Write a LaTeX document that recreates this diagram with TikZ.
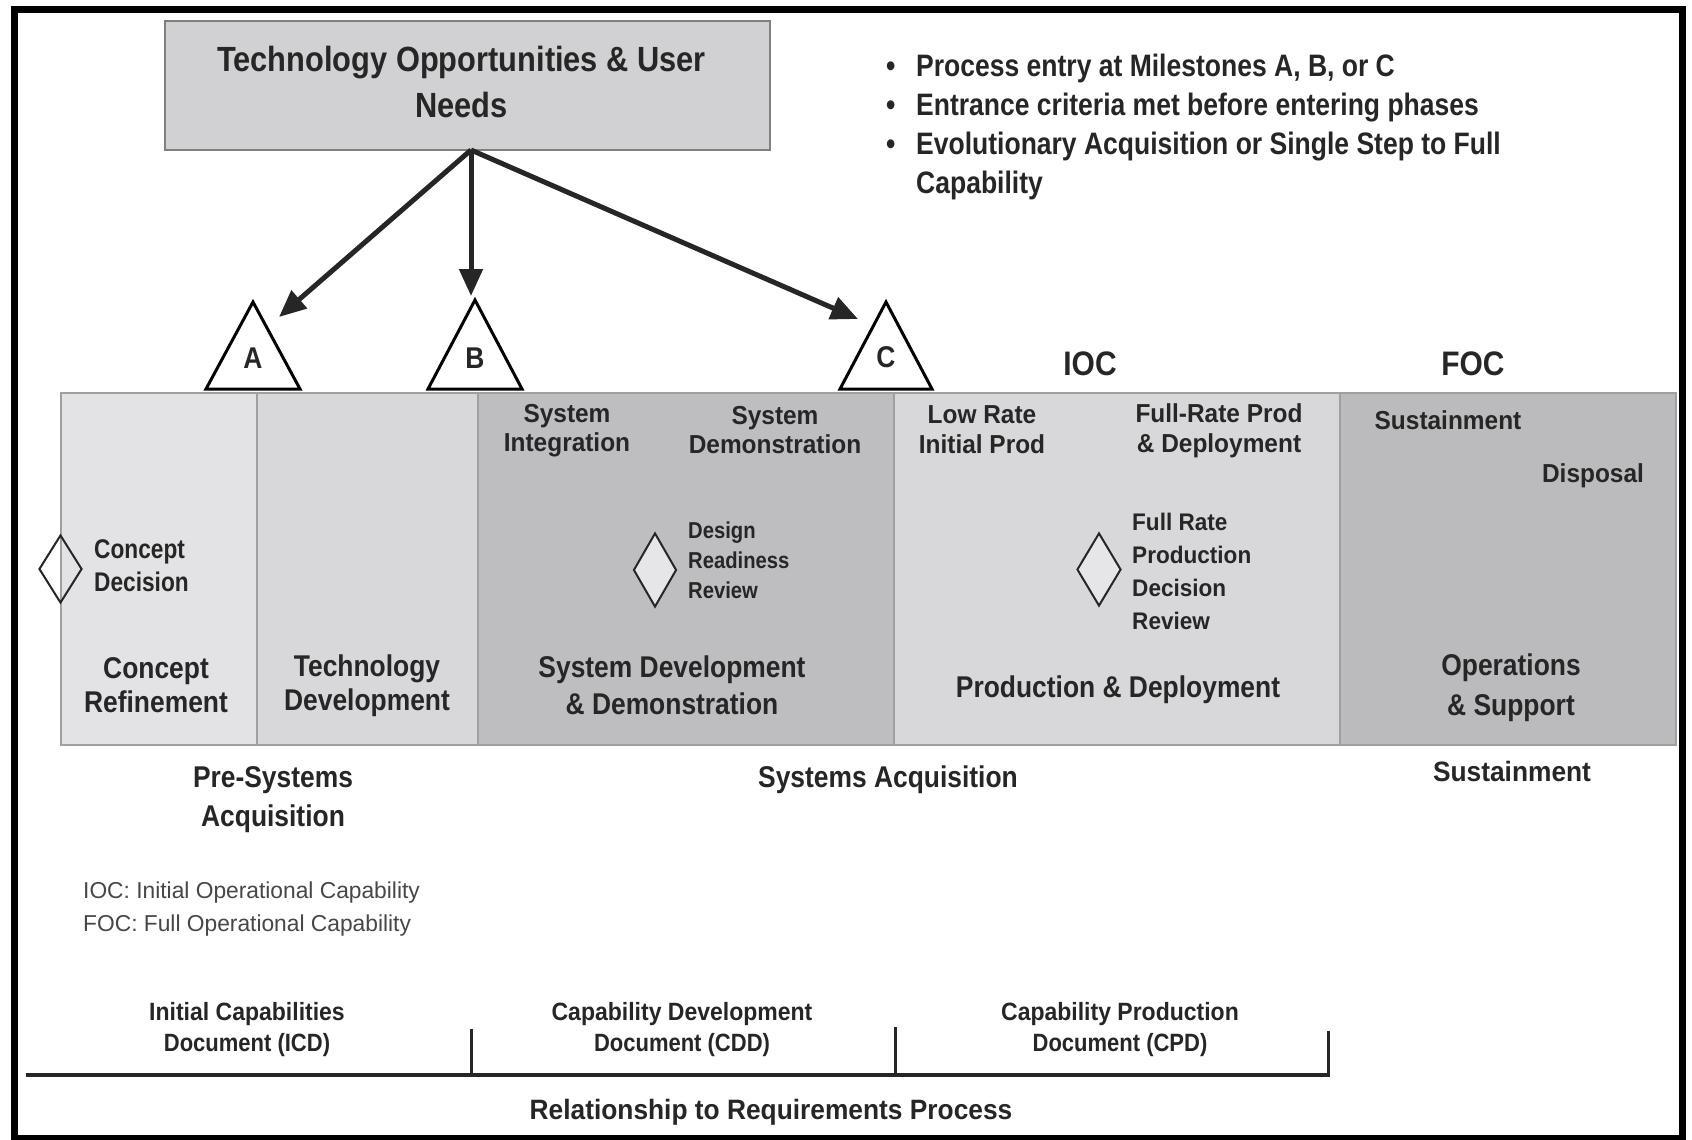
\documentclass[tikz,border=0pt]{standalone}
\usepackage{fontspec}
\setmainfont{Liberation Sans}[FakeStretch=0.88]
\newfontfamily\widefont{Liberation Sans}[FakeStretch=0.94]
\newfontfamily\bulfont{Liberation Sans}[FakeStretch=0.855]
\newfontfamily\narfont{Liberation Sans}[FakeStretch=0.84]
\newfontfamily\legfont{Liberation Sans}[FakeStretch=0.99]
\usetikzlibrary{shapes.geometric,arrows.meta}
\definecolor{ink}{HTML}{262626}
\definecolor{crfill}{HTML}{E3E3E5}
\definecolor{lightfill}{HTML}{D8D8DA}
\definecolor{darkfill}{HTML}{BEBEC0}
\definecolor{osfill}{HTML}{BBBBBD}
\definecolor{boxfill}{HTML}{D1D1D3}
\definecolor{edgegray}{HTML}{A0A0A2}
\definecolor{dfill}{HTML}{E6E6E8}
\newcommand\fsz[2]{\fontsize{#1}{#2}\selectfont}
\tikzset{
  lbl/.style={text=ink, font=\bfseries, align=center, inner sep=0pt},
  phasebox/.style={draw=edgegray, line width=1.5pt},
  mstone/.style={draw=black, fill=white, line width=3pt, line join=miter},
  dec/.style={diamond, draw=ink, line width=2pt, inner sep=0pt},
  bigarrow/.style={draw=ink, line width=5pt, -{Triangle[length=27pt,width=23pt]}},
  docline/.style={draw=ink, line width=4pt},
  tickline/.style={draw=ink, line width=3pt},
}
\begin{document}
\begin{tikzpicture}[x=1pt,y=-1pt]
\useasboundingbox (0,0) rectangle (1692,1140);
\fill[white] (0,0) rectangle (1692,1140);
% outer frame
\draw[black, line width=7pt] (14,10) rectangle (1682,1138);

% top box
\node[draw=gray, line width=1.5pt, fill=boxfill, minimum width=605pt, minimum height=129pt, inner sep=0pt] (top) at (467.5,85.5) {};
\node[lbl, font=\bfseries\fsz{35}{46}] (toptext) at (461.5,81.5) {Technology Opportunities \& User\\Needs};

% bullets
\node[lbl, anchor=west, align=left, font=\bulfont\bfseries\fsz{31}{39}] (bul) at (886,127)
 {\makebox[30pt][l]{\textbullet}Process entry at Milestones A, B, or C\\
  \makebox[30pt][l]{\textbullet}Entrance criteria met before entering phases\\
  \makebox[30pt][l]{\textbullet}Evolutionary Acquisition or Single Step to Full\\
  \makebox[30pt][l]{}Capability};

% phase band
\fill[crfill] (61,393) rectangle (257,745);
\fill[lightfill] (257,393) rectangle (478,745);
\fill[darkfill] (478,393) rectangle (894,745);
\fill[lightfill] (894,393) rectangle (1340,745);
\fill[osfill] (1340,393) rectangle (1676,745);
\draw[phasebox] (61,393) rectangle (1676,745);
\draw[phasebox] (257,393) -- (257,745);
\draw[phasebox] (478,393) -- (478,745);
\draw[phasebox] (894,393) -- (894,745);
\draw[phasebox] (1340,393) -- (1340,745);

% milestones
\draw[mstone] (206,389) -- (253,302) -- (300,389) -- cycle;
\draw[mstone] (428,389) -- (475,300) -- (522,389) -- cycle;
\draw[mstone] (840,389) -- (886,302) -- (932,389) -- cycle;
\node[lbl, font=\bfseries\fsz{30}{34}] (mA) at (253,358) {A};
\node[lbl, font=\bfseries\fsz{30}{34}] (mB) at (475,358) {B};
\node[lbl, font=\bfseries\fsz{30}{34}] (mC) at (886,357) {C};
\coordinate (tA) at (279,317);
\coordinate (tB) at (471,296);
\coordinate (tC) at (858,319);
\coordinate (src) at (471,150);
\draw[bigarrow] (src) -- (tA);
\draw[bigarrow] (src) -- (tB);
\draw[bigarrow] (src) -- (tC);

\node[lbl, font=\bfseries\fsz{34}{38}] (ioc) at (1090,364) {IOC};
\node[lbl, font=\bfseries\fsz{34}{38}] (foc) at (1473,364) {FOC};

% diamonds
\node[dec, minimum width=43pt, minimum height=68pt] (d1) at (60.5,569) {};
\node[dec, fill=dfill, minimum width=43pt, minimum height=74pt] (d2) at (655,570) {};
\node[dec, fill=dfill, minimum width=44pt, minimum height=73pt] (d3) at (1099,569.5) {};

% band texts
\node[lbl, anchor=west, align=left, font=\narfont\bfseries\fsz{27}{33}] (cd) at (94,566) {Concept\\Decision};
\node[lbl, font=\bfseries\fsz{30}{34}] (cr) at (156,685) {Concept\\Refinement};
\node[lbl, font=\bfseries\fsz{30}{34}] (td) at (367,686) {Technology\\Development};
\node[lbl, font=\widefont\bfseries\fsz{26}{29}] (si) at (567,431) {System\\Integration};
\node[lbl, font=\widefont\bfseries\fsz{26}{29}] (sdm) at (775,430) {System\\Demonstration};
\node[lbl, anchor=west, align=left, font=\bfseries\fsz{23}{30}] (drr) at (688,560) {Design\\Readiness\\Review};
\node[lbl, font=\bfseries\fsz{30}{37}] (sdd) at (672,685) {System Development\\\& Demonstration};
\node[lbl, font=\widefont\bfseries\fsz{26}{30}] (lrip) at (982,430) {Low Rate\\Initial Prod};
\node[lbl, font=\widefont\bfseries\fsz{26}{30}] (frp) at (1219,431) {Full-Rate Prod\\\& Deployment};
\node[lbl, anchor=west, align=left, font=\widefont\bfseries\fsz{24}{33}] (frpdr) at (1132,571.5) {Full Rate\\Production\\Decision\\Review};
\node[lbl, font=\bfseries\fsz{30}{34}] (pd) at (1118,690) {Production \& Deployment};
\node[lbl, font=\widefont\bfseries\fsz{26}{30}] (sus1) at (1448,420) {Sustainment};
\node[lbl, font=\widefont\bfseries\fsz{26}{30}] (disp) at (1593,476) {Disposal};
\node[lbl, font=\bfseries\fsz{30}{40}] (os) at (1511,688) {Operations\\\& Support};

% below band
\node[lbl, font=\bfseries\fsz{30}{39}] (pre) at (273,800) {Pre-Systems\\Acquisition};
\node[lbl, font=\bfseries\fsz{30}{34}] (sa) at (888,780) {Systems Acquisition};
\node[lbl, font=\widefont\bfseries\fsz{28}{32}] (sus2) at (1512,771) {Sustainment};
\node[text=ink!85, inner sep=0pt, anchor=west, align=left, font=\legfont\mdseries\fsz{23}{33}] (leg) at (83,909.5) {IOC: Initial Operational Capability\\FOC: Full Operational Capability};

% requirements documents
\node[lbl, font=\bfseries\fsz{25}{31}] (icd) at (247,1029.5) {\addfontfeature{FakeStretch=0.92}Initial Capabilities\\Document (ICD)};
\node[lbl, font=\bfseries\fsz{25}{31}] (cdd) at (682,1029.5) {\addfontfeature{FakeStretch=0.92}Capability Development\\Document (CDD)};
\node[lbl, font=\bfseries\fsz{25}{31}] (cpd) at (1120,1029.5) {\addfontfeature{FakeStretch=0.92}Capability Production\\Document (CPD)};
\coordinate (b0) at (26,1075);
\coordinate (b1) at (471.5,1075);
\coordinate (b2) at (895.5,1075);
\coordinate (b3) at (1328,1075);
\coordinate (u1) at (471.5,1029);
\coordinate (u2) at (895.5,1027);
\coordinate (u3) at (1328,1031);
\draw[docline] (b0) -- (b3);
\draw[tickline] (b1) -- (u1);
\draw[tickline] (b2) -- (u2);
\draw[tickline] ([yshift=-1.5pt]b3) -- (u3);
\node[lbl, font=\widefont\bfseries\fsz{28}{32}] (rel) at (771,1112) {Relationship to Requirements Process};
\end{tikzpicture}
\end{document}
